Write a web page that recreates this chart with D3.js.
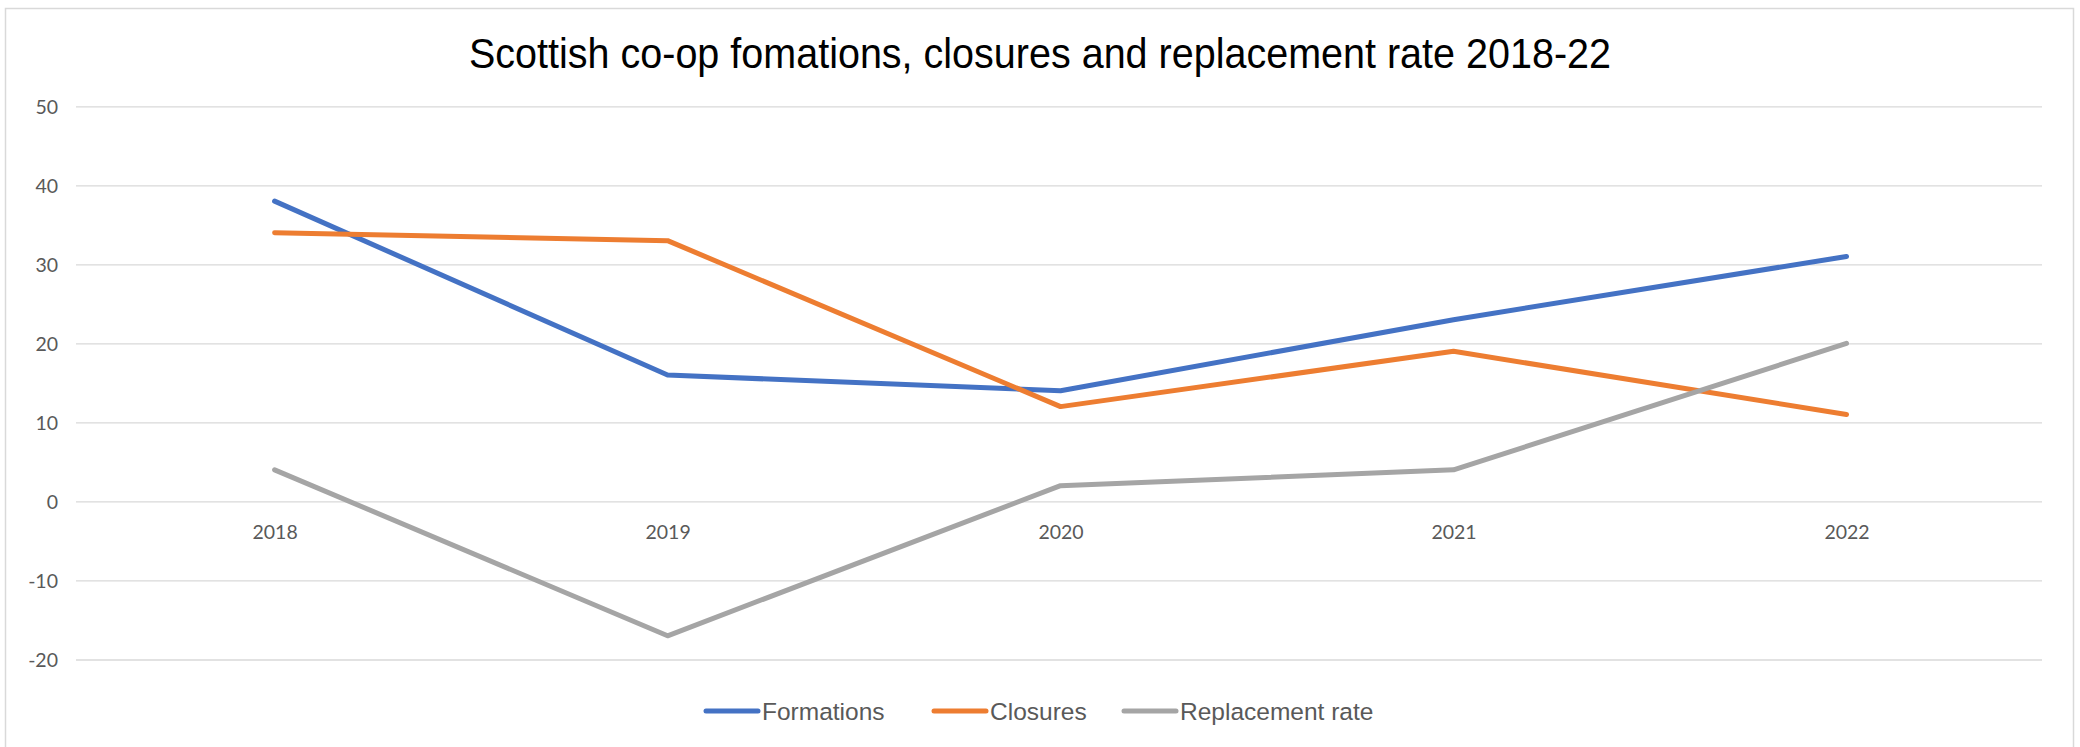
<!DOCTYPE html>
<html>
<head>
<meta charset="utf-8">
<script src="https://cdn.jsdelivr.net/npm/d3@7"></script>
<style>
    body { margin: 0; background: #fff; }
    svg { display: block; }
    .tick text { fill: #595959; font-family: Lato, "Open Sans", sans-serif; font-size: 19.5px; }
    .grid line { stroke: #d9d9d9; stroke-width: 1.3; }
    .legend text { fill: #595959; font-family: "Liberation Sans", Arial, sans-serif; font-size: 24.5px; }
</style>
</head>
<body>
<svg id="chart" width="2080" height="747"></svg>
<script>
    // chart data
    const years        = ["2018", "2019", "2020", "2021", "2022"];
    const formations   = [38, 16, 14, 23, 31];
    const closures     = [34, 33, 12, 19, 11];
    const replacement  = [4, -17, 2, 4, 20];
    const seriesNames  = ["Formations", "Closures", "Replacement rate"];
    const seriesColors = ["#4472C4", "#ED7D31", "#A5A5A5"];
    const yTicks       = [-20, -10, 0, 10, 20, 30, 40, 50];

    const series = [formations, closures, replacement].map((vals, i) => ({
        name: seriesNames[i], color: seriesColors[i], values: vals
    }));

    const svg = d3.select("#chart");

    // outer chart border
    svg.append("rect")
        .attr("x", 5.5).attr("y", 8.5)
        .attr("width", 2068).attr("height", 800)
        .attr("fill", "#fff").attr("stroke", "#d9d9d9").attr("stroke-width", 1.5);

    // title
    svg.append("text")
        .attr("x", 1040).attr("y", 68)
        .attr("text-anchor", "middle")
        .attr("font-family", "'Liberation Sans', Arial, sans-serif")
        .attr("font-size", 42)
        .attr("fill", "#000")
        .attr("textLength", 1142)
        .attr("lengthAdjust", "spacingAndGlyphs")
        .text("Scottish co-op fomations, closures and replacement rate 2018-22");

    const x = d3.scalePoint().domain(years).range([274.6, 1846.5]);
    const y = d3.scaleLinear().domain([-20, 50]).range([659.5, 106.3]);
    const left = 76, right = 2042;

    // gridlines + y labels (plain hyphen for negatives, as in the original)
    const yAxis = svg.append("g")
        .attr("class", "grid")
        .attr("transform", `translate(${left},0)`)
        .call(d3.axisLeft(y).tickValues(yTicks).tickFormat(d => String(d))
            .tickSize(-(right - left)).tickPadding(18));
    yAxis.select(".domain").remove();
    yAxis.selectAll(".tick text").attr("dy", "0.35em");

    // category labels sit under the zero line
    const xAxis = svg.append("g")
        .attr("transform", `translate(0,${y(0)})`)
        .call(d3.axisBottom(x).tickSize(0).tickPadding(24));
    xAxis.select(".domain").remove();

    // lines
    const line = d3.line()
        .x((d, i) => x(years[i]))
        .y(d => y(d));

    svg.append("g").selectAll("path")
        .data(series)
        .join("path")
        .attr("d", d => line(d.values))
        .attr("fill", "none")
        .attr("stroke", d => d.color)
        .attr("stroke-width", 5)
        .attr("stroke-linecap", "round")
        .attr("stroke-linejoin", "round");

    // legend
    const legendX = [704, 932, 1122];
    const lg = svg.append("g").attr("class", "legend");
    const item = lg.selectAll("g")
        .data(series)
        .join("g")
        .attr("transform", (d, i) => `translate(${legendX[i]},711)`);
    item.append("line")
        .attr("x1", 2).attr("x2", 54)
        .attr("stroke", d => d.color)
        .attr("stroke-width", 5)
        .attr("stroke-linecap", "round");
    item.append("text")
        .attr("x", 58).attr("dy", "0.35em")
        .text(d => d.name);
</script>
</body>
</html>
